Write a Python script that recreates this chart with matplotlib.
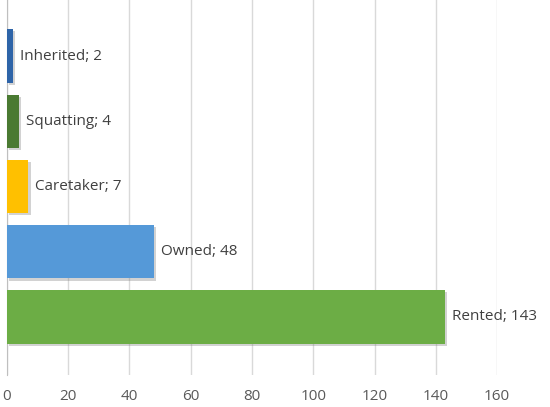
import matplotlib.pyplot as plt
import matplotlib.patheffects as pe

categories = ['Rented', 'Owned', 'Caretaker', 'Squatting', 'Inherited']
values = [143, 48, 7, 4, 2]
colors = ['#6CAD45', '#5599D8', '#FFC000', '#4A7A32', '#2E64A8']
xticks = [0, 20, 40, 60, 80, 100, 120, 140, 160]

plt.rcParams['font.family'] = ['Open Sans', 'DejaVu Sans']

fig = plt.figure(figsize=(5.5, 4.07), dpi=100)
ax = fig.add_axes([0.0127, 0.0786, 0.891, 0.9214])

y = list(range(len(categories)))
bars = ax.barh(y, values, height=0.82, color=colors, zorder=3)
for b in bars:
    b.set_path_effects([pe.SimplePatchShadow(offset=(1.5, -1.5), shadow_rgbFace='#808080', alpha=0.35), pe.Normal()])

for yi, v, c in zip(y, values, categories):
    ax.annotate(f'{c}; {v}', (v, yi), xytext=(5, 0), textcoords='offset points',
                va='center', ha='left', fontsize=11, color='#404040', annotation_clip=False)

ax.set_xlim(0, 160)
ax.set_ylim(-0.89, 4.86)
ax.set_xticks(xticks)
ax.set_yticks([])
ax.grid(axis='x', color='#D9D9D9', linewidth=1, zorder=0)
for s in ['top', 'right', 'bottom']:
    ax.spines[s].set_visible(False)
ax.spines['left'].set_color('#BFBFBF')
ax.tick_params(axis='x', length=0, pad=10, labelsize=11, labelcolor='#595959')

fig.savefig('out.png', dpi=100)
